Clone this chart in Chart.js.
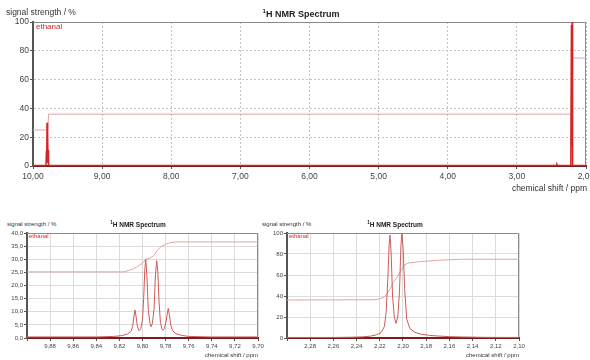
<!DOCTYPE html>
<html>
<head>
<meta charset="utf-8">
<title>1H NMR Spectrum - ethanal</title>
<script src="https://cdn.jsdelivr.net/npm/chart.js@4"></script>
<style>
  body { margin: 0; background: #fff; font-family: "Liberation Sans", Arial, sans-serif; }
  #page { position: relative; width: 590px; height: 360px; overflow: hidden; }
  canvas { position: absolute; }
  .lbl { position: absolute; white-space: nowrap; color: #333; line-height: 1; }
  .ttl { font-weight: bold; color: #222; transform: translateX(-50%); }
  .leg { color: #d02828; }
</style>
</head>
<body>
<div id="page">
  <canvas id="mainChart" width="590" height="196" style="left:0;top:0"></canvas>
  <canvas id="aldChart" width="268" height="125" style="left:0;top:228px"></canvas>
  <canvas id="methylChart" width="268" height="125" style="left:262px;top:228px"></canvas>

  <!-- main chart texts -->
  <div class="lbl" style="left:6px;top:8px;font-size:8.5px">signal strength / %</div>
  <div class="lbl ttl" style="left:301px;top:8px;font-size:9px"><sup style="font-size:6px">1</sup>H NMR Spectrum</div>
  <div class="lbl" style="right:3px;top:184px;font-size:8.5px">chemical shift / ppm</div>
  <div class="lbl leg" style="left:36px;top:23px;font-size:8px">ethanal</div>

  <!-- bottom left texts -->
  <div class="lbl" style="left:7px;top:221px;font-size:6px">signal strength / %</div>
  <div class="lbl ttl" style="left:138px;top:221px;font-size:6.5px"><sup style="font-size:4.5px">1</sup>H NMR Spectrum</div>
  <div class="lbl" style="right:332px;top:352px;font-size:6px">chemical shift / ppm</div>
  <div class="lbl leg" style="left:29px;top:233px;font-size:6px">ethanal</div>

  <!-- bottom right texts -->
  <div class="lbl" style="left:262px;top:221px;font-size:6px">signal strength / %</div>
  <div class="lbl ttl" style="left:395px;top:221px;font-size:6.5px"><sup style="font-size:4.5px">1</sup>H NMR Spectrum</div>
  <div class="lbl" style="right:71px;top:352px;font-size:6px">chemical shift / ppm</div>
  <div class="lbl leg" style="left:289px;top:233px;font-size:6px">ethanal</div>
</div>
<script>
// Full spectrum (ppm, %)
const mainShift = [10.00, 9.812, 9.806, 9.802, 9.797, 9.792, 9.788, 9.783, 9.778, 9.772,
                   2.43, 2.42, 2.41, 2.22, 2.211, 2.206, 2.201, 2.194, 2.00];
const mainSignal = [0.4, 0.4, 10.5, 2.5, 30, 4, 29.5, 3, 11, 0.4,
                    0.4, 1.2, 0.4, 0.4, 98, 14, 100, 0.4, 0.4];
const mainIntShift = [10.00, 9.785, 9.775, 2.205, 2.195, 2.00];
const mainIntegral = [25, 25, 36, 36, 75, 75];

// Zoom on aldehyde quartet
const aldShift = [9.900, 9.840, 9.825, 9.818, 9.813, 9.810, 9.8085, 9.8075, 9.8065, 9.8055,
                  9.8045, 9.803, 9.8015, 9.800, 9.799, 9.798, 9.7972, 9.7962, 9.795, 9.7935,
                  9.7926, 9.7915, 9.790, 9.7888, 9.7877, 9.7867, 9.7857, 9.7845, 9.783, 9.7822,
                  9.781, 9.7795, 9.7785, 9.7777, 9.7768, 9.7755, 9.774, 9.771, 9.766, 9.760,
                  9.740, 9.700];
const aldSignal = [0.4, 0.4, 0.6, 0.9, 1.5, 2.5, 4.5, 8, 10.7, 8,
                   4.5, 2.8, 3.5, 7, 15, 26, 30, 24, 11, 5.5,
                   4.3, 5.5, 11, 24, 29.5, 25, 14, 6, 3.2, 3,
                   3.6, 6.5, 9.5, 11.3, 9, 5, 2.8, 1.6, 1.0, 0.6,
                   0.4, 0.4];
const aldIntShift = [9.900, 9.816, 9.810, 9.805, 9.800, 9.797, 9.793, 9.790, 9.787, 9.784,
                     9.780, 9.776, 9.770, 9.700];
const aldIntegral = [25.2, 25.2, 26.0, 27.0, 28.5, 30.0, 30.6, 31.5, 33.5, 34.8,
                     35.7, 36.3, 36.6, 36.6];

// Zoom on methyl doublet
const methylShift = [2.300, 2.260, 2.245, 2.235, 2.228, 2.223, 2.219, 2.216, 2.2145, 2.213,
                     2.212, 2.2112, 2.2102, 2.209, 2.2075, 2.206, 2.2045, 2.203, 2.2018, 2.2009,
                     2.1999, 2.1985, 2.1968, 2.194, 2.190, 2.185, 2.178, 2.170, 2.160, 2.150,
                     2.130, 2.100];
const methylSignal = [0.5, 0.5, 0.7, 1.1, 1.8, 3, 5, 11, 25, 58,
                      88, 98, 80, 40, 20, 14, 20, 45, 88, 100,
                      85, 45, 18, 9, 5.5, 3.8, 2.6, 1.9, 1.3, 1,
                      0.6, 0.5];
const methylIntShift = [2.300, 2.225, 2.219, 2.215, 2.211, 2.208, 2.205, 2.202, 2.199, 2.195,
                        2.185, 2.170, 2.150, 2.100];
const methylIntegral = [36.2, 36.4, 37.5, 40, 47, 54, 58, 64, 69.5, 71.5,
                        72.8, 74, 75, 75];

const RED = '#d42424';
const PINK = '#e6a2a2';

function toPoints(xs, ys) {
  return xs.map((x, i) => ({ x: x, y: ys[i] }));
}

function comma(v, digits) {
  return v.toFixed(digits).replace('.', ',');
}

// top and right frame lines
const framePlugin = {
  id: 'frame',
  beforeDatasetsDraw(chart) {
    const { ctx, chartArea: a } = chart;
    ctx.save();
    ctx.strokeStyle = '#8a8a8a';
    ctx.lineWidth = 1;
    ctx.beginPath();
    ctx.moveTo(a.left, a.top + 0.5);
    ctx.lineTo(a.right - 0.5, a.top + 0.5);
    ctx.lineTo(a.right - 0.5, a.bottom);
    ctx.stroke();
    ctx.restore();
  }
};

function makeChart(id, o) {
  return new Chart(document.getElementById(id), {
    type: 'line',
    data: {
      datasets: [
        {
          data: toPoints(o.shift, o.signal),
          borderColor: o.lineColor,
          borderWidth: o.lineWidth,
          pointRadius: 0,
          tension: 0
        },
        {
          data: toPoints(o.intShift, o.integral),
          borderColor: PINK,
          borderWidth: 1,
          pointRadius: 0,
          tension: 0
        }
      ]
    },
    options: {
      responsive: false,
      animation: false,
      parsing: false,
      layout: { autoPadding: false, padding: { top: o.padTop, right: o.padRight, left: 0, bottom: 0 } },
      plugins: { legend: { display: false }, tooltip: { enabled: false } },
      scales: {
        x: {
          type: 'linear',
          reverse: true,
          min: o.xMin,
          max: o.xMax,
          ticks: {
            stepSize: o.xStep,
            autoSkip: false,
            maxRotation: 0,
            padding: o.tickPad,
            color: '#444',
            font: { family: 'Liberation Sans', size: o.fontSize },
            callback: (v) => (o.hideX !== undefined && Math.abs(v - o.hideX) < 1e-6) ? '' : comma(v, 2)
          },
          grid: { color: o.gridColor, tickLength: 3, tickColor: '#555' },
          border: { color: '#7a1c1c', width: 2, dash: o.gridDash },
          afterFit: (s) => { s.height = o.xHeight; s.paddingLeft = 0; s.paddingRight = 0; }
        },
        y: {
          min: 0,
          max: o.yMax,
          ticks: {
            stepSize: o.yStep,
            padding: 1,
            color: '#444',
            font: { family: 'Liberation Sans', size: o.fontSize },
            callback: (v) => comma(v, o.yDigits)
          },
          grid: { color: o.gridColor, tickLength: 3, tickColor: '#555' },
          border: { color: '#555', width: 2, dash: o.gridDash },
          afterFit: (s) => { s.width = o.yWidth; s.paddingTop = 0; s.paddingBottom = 0; }
        }
      }
    },
    plugins: [framePlugin]
  });
}

makeChart('mainChart', {
  shift: mainShift, signal: mainSignal, intShift: mainIntShift, integral: mainIntegral,
  lineColor: RED, lineWidth: 1.5,
  xMin: 2, xMax: 10, xStep: 1, yMax: 100, yStep: 20, yDigits: 0,
  padTop: 22, padRight: 4, xHeight: 30, yWidth: 33,
  fontSize: 8.5, tickPad: 3, gridColor: '#c4c4c4', gridDash: [2, 2]
});

makeChart('aldChart', {
  shift: aldShift, signal: aldSignal, intShift: aldIntShift, integral: aldIntegral,
  lineColor: '#cf5a5a', lineWidth: 1,
  xMin: 9.70, xMax: 9.90, xStep: 0.02, hideX: 9.90, yMax: 40, yStep: 5, yDigits: 1,
  padTop: 5, padRight: 10, xHeight: 15, yWidth: 27,
  fontSize: 6, tickPad: 2, gridColor: '#dcdcdc', gridDash: []
});

makeChart('methylChart', {
  shift: methylShift, signal: methylSignal, intShift: methylIntShift, integral: methylIntegral,
  lineColor: '#cf5a5a', lineWidth: 1,
  xMin: 2.10, xMax: 2.30, xStep: 0.02, hideX: 2.30, yMax: 100, yStep: 20, yDigits: 0,
  padTop: 5, padRight: 11, xHeight: 15, yWidth: 25,
  fontSize: 6, tickPad: 2, gridColor: '#dcdcdc', gridDash: []
});
</script>
</body>
</html>
